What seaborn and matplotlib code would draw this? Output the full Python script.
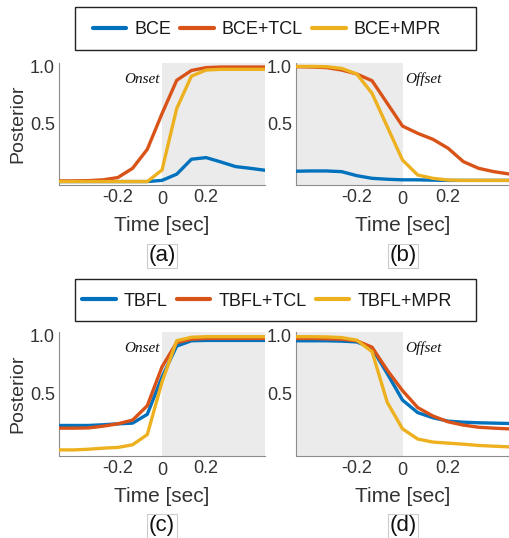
import numpy as np
import pandas as pd
import matplotlib
matplotlib.use("Agg")
import matplotlib.pyplot as plt
import seaborn as sns
from matplotlib.patches import Rectangle
from matplotlib.lines import Line2D
import matplotlib.transforms as mtransforms

# ---------------- data ----------------
time = [k / 15 for k in range(-7, 8)]

top_labels = ["BCE", "BCE+TCL", "BCE+MPR"]
bot_labels = ["TBFL", "TBFL+TCL", "TBFL+MPR"]

# (a) Onset, top row
a_bce = [0.0, 0.0, 0.0, 0.0, 0.0, 0.0, 0.0, 0.01, 0.064, 0.194, 0.208, 0.17, 0.13, 0.115, 0.098]
a_tcl = [0.005, 0.006, 0.008, 0.015, 0.035, 0.115, 0.28, 0.59, 0.88, 0.965, 0.99, 0.995, 0.995, 0.995, 0.995]
a_mpr = [0.0, 0.0, 0.0, 0.0, 0.0, 0.0, 0.0, 0.1, 0.635, 0.916, 0.969, 0.975, 0.975, 0.975, 0.975]

# (b) Offset, top row
b_bce = [0.09, 0.092, 0.092, 0.086, 0.051, 0.028, 0.02, 0.015, 0.015, 0.012, 0.01, 0.01, 0.01, 0.01, 0.01]
b_tcl = [0.998, 0.995, 0.99, 0.969, 0.934, 0.876, 0.679, 0.482, 0.419, 0.367, 0.289, 0.173, 0.115, 0.086, 0.066]
b_mpr = [1.0, 1.0, 0.998, 0.983, 0.934, 0.766, 0.476, 0.187, 0.057, 0.028, 0.013, 0.01, 0.01, 0.01, 0.01]

# (c) Onset, bottom row
c_tbfl = [0.231, 0.231, 0.231, 0.237, 0.245, 0.251, 0.326, 0.645, 0.91, 0.955, 0.958, 0.958, 0.958, 0.958, 0.958]
c_tcl = [0.208, 0.208, 0.21, 0.225, 0.245, 0.277, 0.4, 0.732, 0.94, 0.968, 0.975, 0.975, 0.975, 0.975, 0.975]
c_mpr = [0.022, 0.022, 0.028, 0.037, 0.043, 0.066, 0.153, 0.602, 0.955, 0.985, 0.99, 0.99, 0.99, 0.99, 0.99]

# (d) Offset, bottom row
d_tbfl = [0.955, 0.955, 0.955, 0.952, 0.945, 0.891, 0.674, 0.448, 0.341, 0.297, 0.268, 0.259, 0.254, 0.251, 0.248]
d_tcl = [0.975, 0.975, 0.972, 0.968, 0.955, 0.9, 0.703, 0.529, 0.384, 0.312, 0.262, 0.234, 0.216, 0.208, 0.202]
d_mpr = [0.99, 0.99, 0.988, 0.982, 0.96, 0.862, 0.428, 0.202, 0.115, 0.089, 0.08, 0.071, 0.06, 0.054, 0.048]

xticks = [-0.2, 0.0, 0.2]
xticklabels = ["-0.2", "0", "0.2"]
yticks = [0.5, 1.0]
yticklabels = ["0.5", "1.0"]

colors = ["#0072BD", "#D95319", "#EDB120"]

# ---------------- style ----------------
sns.set_theme(style="white")
plt.rcParams["font.family"] = ["Liberation Sans", "DejaVu Sans"]
TXT = "#333333"
SP = "#8c8c8c"

W, H = 509, 538
fig = plt.figure(figsize=(W / 100, H / 100), dpi=100)


def ax_at(l, t, r, b):
    return fig.add_axes([l / W, 1 - b / H, (r - l) / W, (b - t) / H])


XL = (-7 / 15, 7 / 15)
YL = (-0.03, 1.03)


def panel(ax, series, labels, kind, show_ylabel, hpx):
    df = pd.concat(
        [pd.DataFrame({"time": time, "posterior": s, "model": lab}) for s, lab in zip(series, labels)],
        ignore_index=True,
    )
    if kind == "Onset":
        ax.axvspan(0, XL[1], color="#ebebeb", zorder=0, lw=0)
    else:
        ax.axvspan(XL[0], 0, color="#ebebeb", zorder=0, lw=0)
    sns.lineplot(data=df, x="time", y="posterior", hue="model", hue_order=labels,
                 palette=colors, linewidth=2.4, legend=False, ax=ax, zorder=3)
    ax.set_xlim(*XL)
    ax.set_ylim(*YL)
    ax.set_xticks(xticks)
    ax.set_xticklabels(xticklabels)
    ax.set_yticks(yticks)
    ax.set_yticklabels(yticklabels)
    ax.tick_params(direction="in", length=3.5, width=0.8, color=SP, labelsize=13,
                   labelcolor=TXT, pad=3)
    # the "0" label sits slightly lower
    lab0 = ax.get_xticklabels()[1]
    lab0.set_transform(lab0.get_transform() + mtransforms.ScaledTranslation(0, -2 / 100, fig.dpi_scale_trans))
    for s in ["top", "right"]:
        ax.spines[s].set_visible(False)
    for s in ["left", "bottom"]:
        ax.spines[s].set_color(SP)
        ax.spines[s].set_linewidth(0.8)
    ax.set_xlabel("Time [sec]", fontsize=15, color=TXT)
    ax.xaxis.set_label_coords(0.5, -41 / hpx)
    ax.xaxis.label.set_va("center")
    if show_ylabel:
        ax.set_ylabel("Posterior", fontsize=14, color=TXT)
        ax.yaxis.set_label_coords(-0.16, 0.5)
    else:
        ax.set_ylabel("")
    if kind == "Onset":
        ax.text(-0.012, 0.86, "Onset", ha="right", va="baseline", fontsize=11,
                family="Liberation Serif", style="italic", color="#111111", zorder=4)
    else:
        ax.text(0.012, 0.86, "Offset", ha="left", va="baseline", fontsize=11,
                family="Liberation Serif", style="italic", color="#111111", zorder=4)


ax_a = ax_at(59, 63, 265, 185)
ax_b = ax_at(296, 63, 509, 185)
ax_c = ax_at(59, 332, 265, 456)
ax_d = ax_at(296, 332, 509, 456)

panel(ax_a, [a_bce, a_tcl, a_mpr], top_labels, "Onset", True, 122)
panel(ax_b, [b_bce, b_tcl, b_mpr], top_labels, "Offset", False, 122)
panel(ax_c, [c_tbfl, c_tcl, c_mpr], bot_labels, "Onset", True, 124)
panel(ax_d, [d_tbfl, d_tcl, d_mpr], bot_labels, "Offset", False, 124)

# subplot letters
for lab, x, y in [("(a)", 162, 256), ("(b)", 403, 256), ("(c)", 162, 526), ("(d)", 403, 526)]:
    fig.text(x / W, 1 - y / H, lab, ha="center", va="center", fontsize=16, color="#111111",
             bbox=dict(boxstyle="square,pad=0.08", fc="white", ec="#cccccc", lw=0.8))


# legends
def make_legend(labels, ycenter, box_top, box_bot):
    handles = [Line2D([], [], color=c, lw=3) for c in colors]
    fig.legend(handles, labels, ncol=3, loc="center", bbox_to_anchor=(267 / W, 1 - ycenter / H),
               frameon=False, fontsize=13, handlelength=1.85, handletextpad=0.45,
               columnspacing=0.5, labelcolor="#1a1a1a")
    fig.add_artist(Rectangle((75 / W, 1 - box_bot / H), 401 / W, (box_bot - box_top) / H,
                             transform=fig.transFigure, fill=False, ec="#222222", lw=1.0))


make_legend(top_labels, 30, 7, 50)
make_legend(bot_labels, 301, 279, 321)

fig.savefig("out.png", dpi=100)
